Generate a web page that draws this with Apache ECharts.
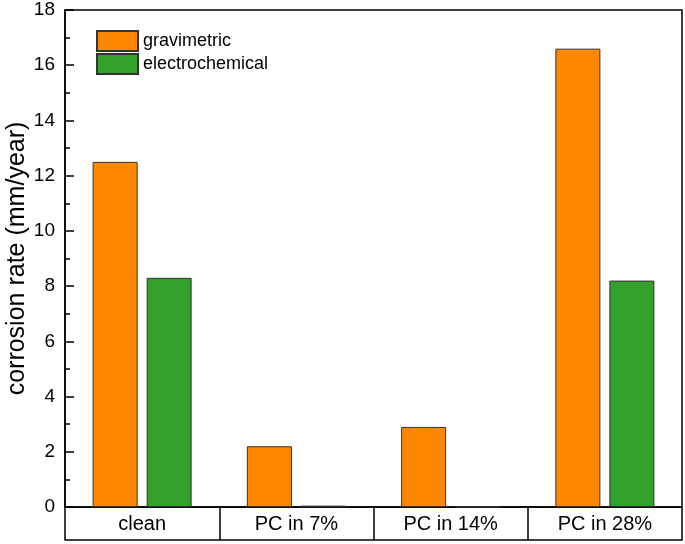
<!DOCTYPE html>
<html><head><meta charset="utf-8">
<script src="https://cdn.jsdelivr.net/npm/echarts@6/dist/echarts.min.js"></script>
<style>html,body{margin:0;padding:0;background:#fff}#c{width:685px;height:544px}</style>
</head><body><div id="c"></div>
<script>
var categories = ['clean', 'PC in 7%', 'PC in 14%', 'PC in 28%'];
var gravimetric = [12.5, 2.2, 2.9, 16.6];
var electrochemical = [8.3, 0.05, 0, 8.2];
var seriesNames = ['gravimetric', 'electrochemical'];
var yTicks = [0, 2, 4, 6, 8, 10, 12, 14, 16, 18];

var font = 'Liberation Sans, Arial, sans-serif';
var chart = echarts.init(document.getElementById('c'));
chart.setOption({
  animation: false,
  grid: {left: 65, top: 10, right: 3, bottom: 37, show: true, borderColor: '#000', borderWidth: 1.5,
         containLabel: false, outerBoundsMode: 'none'},
  legend: {
    orient: 'vertical', left: 96, top: 30, padding: 0, itemWidth: 41, itemHeight: 20, itemGap: 1,
    icon: 'rect',
    textStyle: {fontFamily: font, fontSize: 18, color: '#000'},
    data: seriesNames
  },
  xAxis: [{
    type: 'category', data: categories, position: 'bottom',
    axisLine: {lineStyle: {color: '#000', width: 1.5}},
    axisTick: {show: true, inside: false, length: 33, lineStyle: {color: '#000', width: 1.5}},
    axisLabel: {fontFamily: font, fontSize: 20, color: '#000', margin: 7}
  }, {
    type: 'category', data: categories, position: 'bottom', offset: 33,
    axisLine: {lineStyle: {color: '#000', width: 1.5}},
    axisTick: {show: false}, axisLabel: {show: false}
  }],
  yAxis: {
    type: 'value', min: 0, max: 18, interval: 2,
    name: 'corrosion rate (mm/year)', nameLocation: 'middle', nameGap: 35, nameMoveOverlap: false,
    nameTextStyle: {fontFamily: font, fontSize: 25, color: '#000'},
    axisLine: {show: true, lineStyle: {color: '#000', width: 1.5}},
    axisTick: {show: true, inside: true, length: 9, lineStyle: {color: '#000', width: 1.5}},
    minorTick: {show: true, splitNumber: 2, length: 5, lineStyle: {color: '#000', width: 1.5}},
    splitLine: {show: false},
    axisLabel: {fontFamily: font, fontSize: 19, color: '#000', margin: 10,
      formatter: function (v) { return yTicks.indexOf(v) >= 0 ? String(v) : ''; }}
  },
  series: [{
    name: seriesNames[0], type: 'bar', data: gravimetric, barWidth: 45, barGap: '20%',
    itemStyle: {color: '#FF8800', borderColor: '#333', borderWidth: 1}
  }, {
    name: seriesNames[1], type: 'bar', data: electrochemical, barWidth: 45,
    itemStyle: {color: '#33A02C', borderColor: '#333', borderWidth: 1}
  }]
});
</script></body></html>
